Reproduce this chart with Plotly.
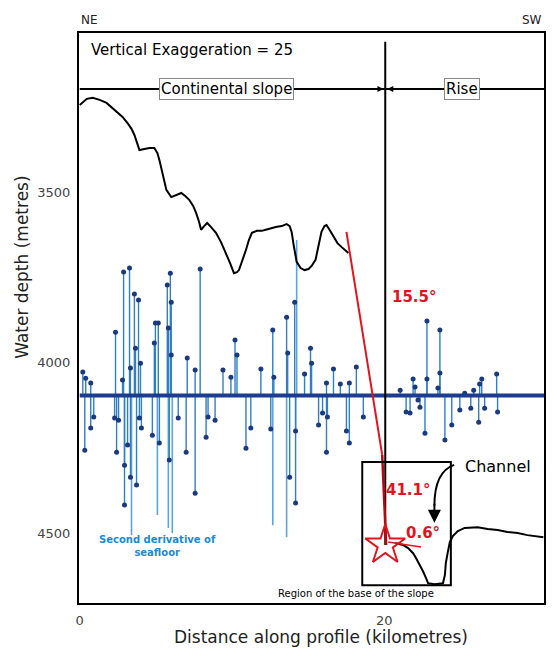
import plotly.graph_objects as go

# ---------------- data ----------------
# seafloor profile, upper (continental slope) part: distance (km), depth (m)
slope_km = [0, 0.13, 0.46, 0.85, 1.31, 1.76, 2.16, 2.48, 2.81, 3.14, 3.40, 3.59, 3.79, 3.92,
            4.25, 4.58, 4.90, 5.10, 5.23, 5.42, 5.56, 5.69, 6.01, 6.34, 6.67, 6.93, 7.19, 7.45,
            7.65, 7.84, 7.97, 8.17, 8.37, 8.63, 8.95, 9.28, 9.61, 9.87, 10.13, 10.33, 10.46,
            10.72, 10.92, 11.11, 11.31, 11.63, 11.96, 12.22, 12.55, 12.88, 13.27, 13.59, 13.79,
            13.92, 14.05, 14.25, 14.51, 14.77, 15.03, 15.23, 15.49, 15.69, 15.88, 16.08, 16.21,
            16.41, 16.67, 16.93, 17.19, 17.45, 17.65]
slope_depth = [3245, 3239, 3227, 3224, 3230, 3239, 3254, 3265, 3280, 3298, 3315, 3333, 3356, 3377,
               3374, 3371, 3371, 3386, 3406, 3441, 3471, 3494, 3515, 3509, 3503, 3512, 3523, 3541,
               3562, 3588, 3611, 3600, 3591, 3603, 3620, 3647, 3679, 3708, 3738, 3735, 3729,
               3699, 3670, 3641, 3620, 3614, 3614, 3611, 3606, 3603, 3600, 3594, 3600,
               3617, 3655, 3705, 3723, 3729, 3726, 3717, 3699, 3655, 3617, 3600, 3597,
               3611, 3632, 3650, 3661, 3670, 3679]

# seafloor profile, lower (base of slope / rise) part
rise_km = [20.72, 21.24, 21.57, 21.90, 22.09, 22.35, 22.55, 22.75, 22.88, 23.33, 23.86, 23.99,
           24.05, 24.18, 24.31, 24.51, 24.84, 25.29, 25.75, 26.14, 26.80, 27.45, 28.10, 28.76,
           29.41, 30.46]
rise_depth = [4529, 4535, 4544, 4559, 4573, 4594, 4612, 4632, 4647, 4650, 4647, 4623,
              4588, 4556, 4527, 4509, 4494, 4485, 4483, 4483, 4488, 4491, 4497, 4500,
              4506, 4512]

# second derivative of seafloor (plotted as stems about a baseline, in axis units)
deriv_baseline = 4097
deriv_km = [0.20, 0.33, 0.39, 0.72, 0.92, 0.72,
            2.35, 2.29, 2.42, 2.55,
            2.88, 2.94, 2.94, 2.81,
            3.27, 3.33, 3.14,
            3.59, 3.66, 3.33, 3.73,
            3.86, 3.99, 3.92, 4.05,
            4.90, 4.97, 5.16, 4.77, 5.23,
            5.75, 5.95, 6.01, 5.82, 6.01, 5.88,
            6.47, 7.06, 6.99, 7.58, 7.58, 7.91, 8.30, 8.43, 8.89, 9.41, 9.93, 10.20, 10.33,
            10.92, 11.24,
            11.90, 12.55, 12.68, 12.75, 13.59, 13.66, 13.79, 14.12, 14.18, 14.18, 14.77, 15.16,
            15.23, 15.69, 15.95, 16.21, 16.27, 16.21, 16.67,
            17.12, 17.71, 17.52, 17.71, 18.17, 18.63,
            21.05, 21.44, 21.70, 21.90, 22.03, 22.22, 22.35, 22.68, 22.81, 22.81, 23.53, 23.66,
            23.66, 23.99, 24.44, 24.97, 25.29, 25.69, 25.88, 26.21, 26.27, 26.41, 26.60, 27.39,
            27.45]
deriv_tip = [4028, 4257, 4046, 4060, 4160, 4192,
             3911, 4163, 4263, 4169,
             3735, 4418, 4301, 4051,
             3723, 4016, 4242,
             3799, 3958, 4336, 4359,
             3817, 4002, 4163, 4192,
             3943, 3884, 3884, 4213, 4236,
             3773, 3738, 3823, 3899, 3978, 4286,
             4163, 3987, 4263, 4022, 4383, 3726, 4219, 4160, 4169, 4022, 4043, 3934, 3978,
             4251, 4192,
             4019, 4195, 3905, 4043, 3867, 3972, 4336, 3823, 4201, 4412, 4034, 3958,
             4002, 4183, 4148, 4060, 4160, 4263, 4019,
             4063, 4060, 4201, 4236, 4013, 4160,
             4081, 4145, 4148, 4048, 4072, 4110, 4131, 4207, 3878, 4048, 4075, 3905,
             4031, 4227, 4183, 4139, 4090, 4134, 4081, 4175, 4063, 4048, 4134, 4034,
             4145]
# long stems without end markers
deriv_long_km = [3.40, 5.10, 5.82, 6.08, 12.68, 13.59, 14.25]
deriv_long_tip = [4506, 4447, 4485, 4500, 4477, 4512, 3641]

# slope-angle construction lines
slope15_km = [17.52, 19.87]
slope15_depth = [3617, 4271]
slope41_km = [19.87, 20.13]
slope41_depth = [4271, 4535]
slope06_km = [20.26, 22.42]
slope06_depth = [4526, 4541]
base_km = [20.07]
base_depth = [4535]

boundary_km = 20.07
division_depth = 3198

x_ticks = [0, 20]
y_ticks = [3500, 4000, 4500]

# ---------------- figure ----------------
FONT = "DejaVu Sans"
fig = go.Figure()

# stems
sx, sy = [], []
for k, d in zip(deriv_km, deriv_tip):
    sx += [k, k, None]
    sy += [deriv_baseline, d, None]
lx, ly = [], []
for k, d in zip(deriv_long_km, deriv_long_tip):
    lx += [k, k, None]
    ly += [deriv_baseline, d, None]

fig.add_trace(go.Scatter(x=lx, y=ly, mode="lines",
                         line=dict(color="#5aa3dc", width=1.6), hoverinfo="skip"))
fig.add_trace(go.Scatter(x=sx, y=sy, mode="lines",
                         line=dict(color="#2f7fc4", width=1.4), hoverinfo="skip"))
fig.add_trace(go.Scatter(x=deriv_km, y=deriv_tip, mode="markers",
                         marker=dict(color="#1b3a7e", size=5), hoverinfo="skip"))
# baseline
fig.add_trace(go.Scatter(x=[0, 30.5], y=[deriv_baseline, deriv_baseline], mode="lines",
                         line=dict(color="#1c3d8f", width=4), hoverinfo="skip"))

# vertical boundary line
fig.add_trace(go.Scatter(x=[boundary_km, boundary_km], y=[3060, 4535], mode="lines",
                         line=dict(color="black", width=2), hoverinfo="skip"))
# horizontal division line
fig.add_trace(go.Scatter(x=[0, 30.5], y=[division_depth, division_depth], mode="lines",
                         line=dict(color="black", width=2), hoverinfo="skip"))

# seafloor profile
fig.add_trace(go.Scatter(x=slope_km, y=slope_depth, mode="lines",
                         line=dict(color="black", width=2), hoverinfo="skip"))
fig.add_trace(go.Scatter(x=rise_km, y=rise_depth, mode="lines",
                         line=dict(color="black", width=2), hoverinfo="skip"))

# red slope lines
fig.add_trace(go.Scatter(x=slope15_km, y=slope15_depth, mode="lines",
                         line=dict(color="#e0141e", width=2), hoverinfo="skip"))
fig.add_trace(go.Scatter(x=slope41_km, y=slope41_depth, mode="lines",
                         line=dict(color="#b00a14", width=2.5), hoverinfo="skip"))
fig.add_trace(go.Scatter(x=slope06_km, y=slope06_depth, mode="lines",
                         line=dict(color="#e0141e", width=1.5), hoverinfo="skip"))
fig.add_trace(go.Scatter(x=base_km, y=base_depth, mode="markers",
                         marker=dict(symbol="star-open", size=30, color="#e0141e",
                                     line=dict(width=2, color="#e0141e")),
                         hoverinfo="skip"))

# region box
fig.add_shape(type="rect", x0=18.56, x1=24.38, y0=4292, y1=4653, xref="x", yref="y",
              line=dict(color="black", width=2), fillcolor="rgba(0,0,0,0)")
# curved channel arrow
fig.add_shape(type="path", xref="x", yref="y",
              path="M 24.6,4300 Q 23.3,4320 23.3,4420",
              line=dict(color="black", width=2))

ann = []
ann.append(dict(x=23.3, y=4470, ax=23.3, ay=4410, xref="x", yref="y", axref="x", ayref="y",
                text="", showarrow=True, arrowhead=2, arrowsize=1.3, arrowwidth=2,
                arrowcolor="black"))
# arrows at boundary on division line
ann.append(dict(x=19.95, y=division_depth, ax=19.3, ay=division_depth, xref="x", yref="y",
                axref="x", ayref="y", text="", showarrow=True, arrowhead=2, arrowsize=0.8,
                arrowwidth=1.5, arrowcolor="black"))
ann.append(dict(x=20.2, y=division_depth, ax=20.9, ay=division_depth, xref="x", yref="y",
                axref="x", ayref="y", text="", showarrow=True, arrowhead=2, arrowsize=0.8,
                arrowwidth=1.5, arrowcolor="black"))

def txt(x, y, s, size, color="black", bold=False, xanchor="center", **kw):
    d = dict(x=x, y=y, xref="x", yref="y", text=("<b>%s</b>" % s) if bold else s,
             showarrow=False, xanchor=xanchor, yanchor="middle",
             font=dict(family=FONT, size=size, color=color))
    d.update(kw)
    return d

ann.append(txt(9.67, division_depth, "Continental slope", 15, bgcolor="white",
               bordercolor="#888", borderwidth=1, borderpad=1))
ann.append(txt(25.1, division_depth, "Rise", 15, bgcolor="white",
               bordercolor="#888", borderwidth=1, borderpad=1))
ann.append(txt(0.6, 3085, "Vertical Exaggeration = 25", 15, xanchor="left"))
ann.append(txt(21.96, 3808, "15.5°", 15, color="#e0141e", bold=True))
ann.append(txt(21.6, 4374, "41.1°", 15, color="#e0141e", bold=True))
ann.append(txt(22.55, 4500, "0.6°", 15, color="#e0141e", bold=True))
ann.append(txt(27.5, 4304, "Channel", 16))
ann.append(txt(18.17, 4678, "Region of the base of the slope", 10))
ann.append(txt(5.1, 4537, "Second derivative of<br>seafloor", 10, color="#1a8ad4", bold=True))

# paper texts
ann.append(dict(x=0, y=1.0, xref="paper", yref="paper", text="NE", showarrow=False,
                xanchor="left", yanchor="bottom", yshift=4,
                font=dict(family=FONT, size=12, color="#222")))
ann.append(dict(x=1.0, y=1.0, xref="paper", yref="paper", text="SW", showarrow=False,
                xanchor="right", yanchor="bottom", yshift=4,
                font=dict(family=FONT, size=12, color="#222")))
ann.append(dict(x=0.52, y=0, xref="paper", yref="paper", text="Distance along profile (kilometres)",
                showarrow=False, xanchor="center", yanchor="top", yshift=-22,
                font=dict(family=FONT, size=17, color="#222")))
ann.append(dict(x=0, y=0.588, xref="paper", yref="paper", text="Water depth (metres)",
                showarrow=False, xanchor="center", yanchor="middle", xshift=-57,
                textangle=-90, font=dict(family=FONT, size=17, color="#222")))

# the page body has an 8px margin, so the figure is sized/offset to compensate
fig.update_layout(
    width=541, height=640,
    margin=dict(l=71, r=3, t=25, b=45),
    paper_bgcolor="white", plot_bgcolor="white",
    showlegend=False,
    annotations=ann,
    font=dict(family=FONT, color="#333"),
)
fig.update_xaxes(range=[-0.05, 30.5], tickvals=x_ticks, ticks="", showgrid=False, zeroline=False,
                 showline=True, linecolor="black", linewidth=2, mirror=True,
                 tickfont=dict(family=FONT, size=13, color="#444"), ticklabelstandoff=4)
fig.update_yaxes(range=[4705, 3034], tickvals=y_ticks, ticks="", showgrid=False, zeroline=False,
                 showline=True, linecolor="black", linewidth=2, mirror=True,
                 tickfont=dict(family=FONT, size=13, color="#444"), ticklabelstandoff=4)

fig.write_html("out.html")
